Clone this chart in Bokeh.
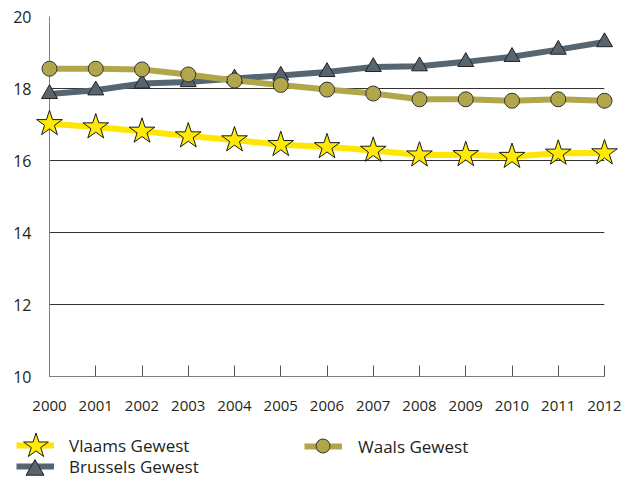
from bokeh.plotting import figure
from bokeh.layouts import column
from bokeh.models import Legend, LegendItem, FixedTicker, Grid, Range1d
from bokeh.embed import file_html
from bokeh.resources import INLINE

# ---- data ----
years = [2000, 2001, 2002, 2003, 2004, 2005, 2006, 2007, 2008, 2009, 2010, 2011, 2012]
vlaams = [17.02, 16.93, 16.81, 16.68, 16.57, 16.44, 16.38, 16.28, 16.15, 16.16, 16.11, 16.20, 16.21]
brussels = [17.85, 17.95, 18.14, 18.18, 18.28, 18.36, 18.46, 18.60, 18.62, 18.74, 18.88, 19.08, 19.29]
waals = [18.55, 18.55, 18.53, 18.39, 18.22, 18.10, 17.97, 17.86, 17.70, 17.70, 17.66, 17.70, 17.66]
y_ticks = [10, 12, 14, 16, 18, 20]
grid_ticks = [12, 14, 16, 18]
top_tick = [20]
names = ["Vlaams Gewest", "Brussels Gewest", "Waals Gewest"]

YELLOW = "#FFE600"
GREY = "#56656F"
OLIVE = "#B2A64A"
TXT = "#231f20"
FONT = "Open Sans"

p = figure(width=630, height=430, output_backend="svg", toolbar_location=None,
           x_range=Range1d(years[0], years[-1]), y_range=Range1d(y_ticks[0], y_ticks[-1]),
           min_border_left=49, min_border_right=26, min_border_top=16, min_border_bottom=54)
p.frame_align = False
p.outline_line_color = None
p.background_fill_color = "white"
p.border_fill_color = "white"

# grids
p.xgrid.visible = False
p.ygrid.ticker = FixedTicker(ticks=grid_ticks)
p.ygrid.grid_line_color = "#333333"
p.ygrid.grid_line_width = 1
p.add_layout(Grid(dimension=1, ticker=FixedTicker(ticks=top_tick), grid_line_color="#8a8a8a"))

# axes
xa = p.xaxis[0]
xa.ticker = FixedTicker(ticks=years)
xa.axis_line_color = "#808080"
xa.major_tick_in = 11
xa.major_tick_out = 0
xa.major_tick_line_color = "#555555"
xa.minor_tick_line_color = None
xa.major_label_text_font = FONT
xa.major_label_text_font_size = "15px"
xa.major_label_text_color = TXT
xa.major_label_standoff = 24

ya = p.yaxis[0]
ya.ticker = FixedTicker(ticks=y_ticks)
ya.axis_line_color = "#808080"
ya.major_tick_in = 0
ya.major_tick_out = 0
ya.minor_tick_line_color = None
ya.major_label_text_font = FONT
ya.major_label_text_font_size = "16px"
ya.major_label_text_color = TXT
ya.major_label_standoff = 18


def draw_series(fig):
    lb = fig.line(years, brussels, line_color=GREY, line_width=6)
    lw = fig.line(years, waals, line_color=OLIVE, line_width=6)
    lv = fig.line(years, vlaams, line_color=YELLOW, line_width=6)
    mb = fig.scatter(years, brussels, marker="triangle", size=16, fill_color=GREY,
                     line_color="#222222", line_width=1)
    mw = fig.scatter(years, waals, marker="circle", size=15, fill_color=OLIVE,
                     line_color="#333333", line_width=1)
    mv = fig.scatter(years, vlaams, marker="star", size=27, fill_color="#FFEA00",
                     line_color="#1a1a1a", line_width=1)
    return lb, lw, lv, mb, mw, mv


for r in draw_series(p):
    r.level = "overlay"

# ---- legend strip (separate figure; its series sit outside its view) ----
q = figure(width=630, height=48, output_backend="svg", toolbar_location=None,
           x_range=Range1d(0, 1), y_range=Range1d(0, 1),
           x_axis_type=None, y_axis_type=None,
           min_border_left=0, min_border_right=0, min_border_top=0, min_border_bottom=0)
q.frame_align = False
q.outline_line_color = None
q.background_fill_color = "white"
q.border_fill_color = "white"
lb, lw, lv, mb, mw, mv = draw_series(q)


def add_legend(item, loc, gw, gh, standoff, alpha=1.0):
    lg = Legend(items=[item], location=loc, orientation="vertical",
                glyph_width=gw, glyph_height=gh, label_height=gh,
                spacing=0, padding=0, margin=0, label_standoff=standoff,
                border_line_color=None, background_fill_alpha=0,
                label_text_font=FONT, label_text_font_size="17px",
                label_text_color=TXT, label_text_alpha=alpha)
    q.add_layout(lg)


# line keys + labels
add_legend(LegendItem(label=names[0], renderers=[lv]), (16, 21), 38, 24, 15)
add_legend(LegendItem(label=names[1], renderers=[lb]), (16, 0), 38, 24, 15)
add_legend(LegendItem(label=names[2], renderers=[lw]), (304, 20), 38, 24, 16)
# marker keys
add_legend(LegendItem(label=" ", renderers=[mv]), (3, 0), 65, 65, 0, 0.0)
add_legend(LegendItem(label=" ", renderers=[mb]), (12, -14), 45, 45, 0, 0.0)
add_legend(LegendItem(label=" ", renderers=[mw]), (305, 15), 35, 35, 0, 0.0)

layout = column(p, q, spacing=0)
open("out.html", "w").write(file_html(layout, INLINE))
